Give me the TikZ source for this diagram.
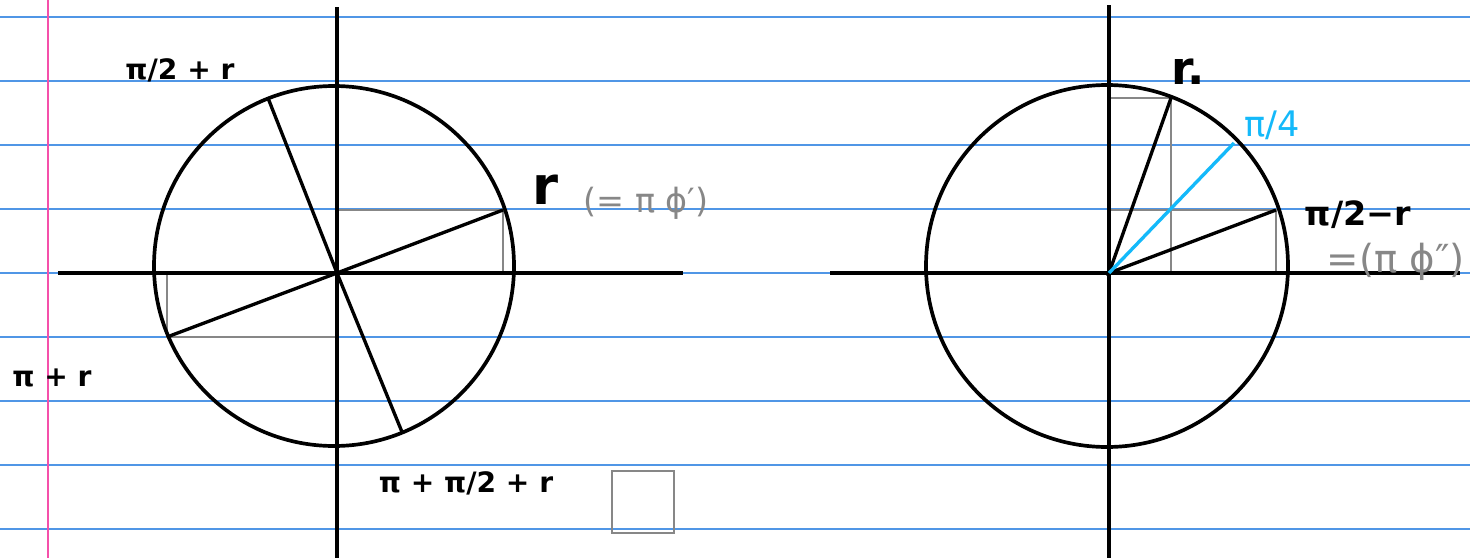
\documentclass[tikz,border=0pt]{standalone}
\usepackage{fontspec}
\setmainfont{DejaVu Sans}
\usetikzlibrary{positioning,calc}
\definecolor{ruleblue}{RGB}{80,150,230}
\definecolor{marginpink}{RGB}{245,80,170}
\definecolor{boxgray}{RGB}{135,135,135}
\definecolor{quartercyan}{RGB}{20,185,250}

\begin{document}
\begin{tikzpicture}[
  x=0.02cm,y=-0.02cm,
  rule/.style={ruleblue,line width=0.8pt},
  axis/.style={line width=2.1pt},
  arm/.style={line width=1.9pt},
  proj/.style={draw=boxgray,line width=1.4pt},
  lbl/.style={inner sep=0pt,font=\bfseries\fontsize{16}{16}\selectfont},
  big/.style={inner sep=0pt,font=\bfseries\fontsize{30}{30}\selectfont},
  note/.style={inner sep=0pt,text=boxgray,font=\fontsize{19}{19}\selectfont}
]
\useasboundingbox (0,0) rectangle (1470,558);
\fill[white] (0,0) rectangle (1470,558);
% lined paper
\foreach \y in {17,81,...,529}
  \draw[rule] (0,\y) -- (1470,\y);
\draw[marginpink,line width=1.1pt] (48,0) -- (48,558);

% left circle
\coordinate (o1) at (337,273);
\coordinate (c1) at (334,266);
\coordinate (p1) at (503,210);
\coordinate (q1) at (167,337);
\coordinate (s1) at (268,98);
\coordinate (t1) at (402,432);
\draw[proj] (o1) rectangle (p1);
\draw[proj] (o1) rectangle (q1);
\draw[axis] (337,7) coordinate (n1) -- (337,558) coordinate (d1);
\draw[axis] (58,273) coordinate (w1) -- (683,273) coordinate (e1);
\draw[axis] (c1) circle[radius=180];
\draw[arm] (q1) -- (o1) -- (p1);
\draw[arm] (s1) -- (o1) -- (t1);
\node[lbl] (l1) at (180,70) {π/2 + r};
\node[big] (r1) at (545,190) {r};
\node[note] (g1) at (646,203) {(= π ϕ′)};
\node[lbl] (l2) at (52,378) {π + r};
\node[lbl] (l3) at (466,483) {π + π/2 + r};
\draw[proj] (612,471) rectangle (674,533);

% right circle
\coordinate (o2) at (1109,273);
\coordinate (c2) at (1107,266);
\coordinate (p2) at (1276,210);
\coordinate (s2) at (1171,98);
\coordinate (m2) at (1234,143);
\draw[proj] (o2) rectangle (p2);
\draw[proj] (o2) rectangle (s2);
\draw[axis] (1109,5) coordinate (n2) -- (1109,558) coordinate (d2);
\draw[axis] (830,273) coordinate (w2) -- (1460,273) coordinate (e2);
\draw[axis] (c2) circle[radius=181];
\draw[arm] (s2) -- (o2) -- (p2);
\draw[arm,quartercyan] (o2) -- (m2);
\node[big,font=\bfseries\fontsize{26}{26}\selectfont] (r2) at (1188,72) {r.};
\node[lbl,text=quartercyan,font=\fontsize{20}{20}\selectfont] (l4) at (1272,125) {π/4};
\node[lbl,font=\bfseries\fontsize{19}{19}\selectfont] (l5) at (1358,215) {π/2−r};
\node[note,font=\fontsize{22}{22}\selectfont] (g2) at (1396,262) {=(π ϕ″)};
\end{tikzpicture}
\end{document}
